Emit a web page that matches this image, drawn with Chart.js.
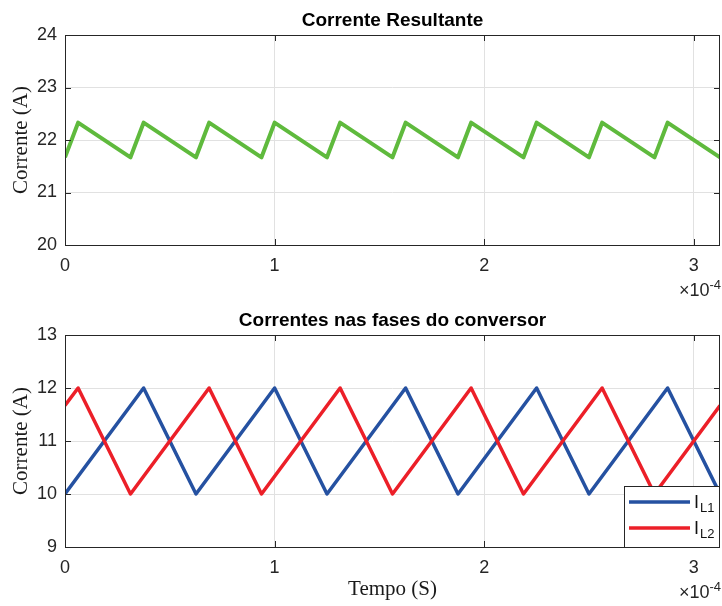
<!DOCTYPE html>
<html>
<head>
<meta charset="utf-8">
<script src="https://cdn.jsdelivr.net/npm/chart.js@4.4.1/dist/chart.umd.min.js"></script>
<style>
    html, body { margin: 0; padding: 0; background: #fff; }
    .grafico { position: absolute; left: 0; width: 722px; }
    #boxSuperior { top: 0; height: 300px; }
    #boxInferior { top: 300px; height: 306px; }
</style>
</head>
<body>
<div class="grafico" id="boxSuperior"><canvas id="graficaSuperior"></canvas></div>
<div class="grafico" id="boxInferior"><canvas id="graficaInferior"></canvas></div>
<script>
//--------Dados (tempo em unidades de 10^-4 s)
const tempoResultante = [0, 0.0625, 0.3125, 0.375, 0.625, 0.6875, 0.9375, 1.0, 1.25, 1.3125, 1.5625,
    1.625, 1.875, 1.9375, 2.1875, 2.25, 2.5, 2.5625, 2.8125, 2.875, 3.125]
const correnteResultante = [21.67, 22.33, 21.67, 22.33, 21.67, 22.33, 21.67, 22.33, 21.67, 22.33, 21.67,
    22.33, 21.67, 22.33, 21.67, 22.33, 21.67, 22.33, 21.67, 22.33, 21.67]

const tempoIL1 = [0, 0.375, 0.625, 1.0, 1.25, 1.625, 1.875, 2.25, 2.5, 2.875, 3.125]
const correnteIL1 = [10, 12, 10, 12, 10, 12, 10, 12, 10, 12, 10]

const tempoIL2 = [0, 0.0625, 0.3125, 0.6875, 0.9375, 1.3125, 1.5625, 1.9375, 2.1875, 2.5625, 2.8125, 3.125]
const correnteIL2 = [11.67, 12, 10, 12, 10, 12, 10, 12, 10, 12, 10, 11.67]

const ticksTempo = [0, 1, 2, 3]
const ticksSuperior = [20, 21, 22, 23, 24]
const ticksInferior = [9, 10, 11, 12, 13]
const tempoMax = 3.125

//--------Estilos
const corEixo = '#262626'
const corGrade = '#e1e1e1'
const fonteSans = '"Liberation Sans", Arial, Helvetica, sans-serif'
const fonteSerif = '"Liberation Serif", "Times New Roman", serif'

function pontos(xs, ys) {
    return xs.map((x, i) => ({ x: x, y: ys[i] }))
}

//Caixa estilo MATLAB com ticks para dentro
const caixaMatlab = {
    id: 'caixaMatlab',
    afterDatasetsDraw(chart) {
        const { ctx, chartArea: a, scales } = chart
        ctx.save()
        ctx.strokeStyle = corEixo
        ctx.lineWidth = 1
        ctx.beginPath()
        scales.x.ticks.forEach(t => {
            const px = Math.round(scales.x.getPixelForValue(t.value)) + 0.5
            ctx.moveTo(px, a.bottom); ctx.lineTo(px, a.bottom - 6)
            ctx.moveTo(px, a.top); ctx.lineTo(px, a.top + 6)
        })
        scales.y.ticks.forEach(t => {
            const py = Math.round(scales.y.getPixelForValue(t.value)) + 0.5
            ctx.moveTo(a.left, py); ctx.lineTo(a.left + 6, py)
            ctx.moveTo(a.right, py); ctx.lineTo(a.right - 6, py)
        })
        ctx.stroke()
        ctx.strokeRect(Math.round(a.left) + 0.5, Math.round(a.top) + 0.5, Math.round(a.width) - 1, Math.round(a.height))
        ctx.restore()
    },
    afterDraw(chart) {
        //Expoente do eixo x
        const { ctx, chartArea: a } = chart
        const y = a.bottom + 51
        ctx.save()
        ctx.fillStyle = corEixo
        ctx.textBaseline = 'alphabetic'
        ctx.textAlign = 'right'
        ctx.font = '13px ' + fonteSans
        const sup = '-4'
        ctx.fillText(sup, a.right + 1, y - 7)
        const wSup = ctx.measureText(sup).width
        ctx.font = '18px ' + fonteSans
        ctx.fillText('\u00d710', a.right + 1 - wSup, y)
        ctx.restore()
    }
}

//Legenda com subscritos
const legendaMatlab = {
    id: 'legendaMatlab',
    afterDraw(chart) {
        const { ctx, chartArea: a } = chart
        const x0 = 624, y0 = a.bottom - 61
        ctx.save()
        ctx.fillStyle = '#ffffff'
        ctx.fillRect(x0, y0, a.right - x0, a.bottom - y0)
        ctx.strokeStyle = corEixo
        ctx.lineWidth = 1
        ctx.strokeRect(x0 + 0.5, y0 + 0.5, a.right - x0 - 1, a.bottom - y0)
        const rotulos = ['L1', 'L2']
        chart.data.datasets.forEach((ds, i) => {
            const yl = y0 + 16 + i * 26
            ctx.strokeStyle = ds.borderColor
            ctx.lineWidth = 3.5
            ctx.beginPath()
            ctx.moveTo(629, yl)
            ctx.lineTo(690, yl)
            ctx.stroke()
            ctx.fillStyle = '#111'
            ctx.textAlign = 'left'
            ctx.textBaseline = 'alphabetic'
            ctx.font = '18px ' + fonteSans
            ctx.fillText('I', 694, yl + 6)
            ctx.font = '13px ' + fonteSans
            ctx.fillText(rotulos[i], 700, yl + 10)
        })
        ctx.restore()
    }
}

function opcoesEixoX(alturaEixo, comTitulo) {
    return {
        type: 'linear',
        min: 0,
        max: tempoMax,
        afterBuildTicks: scale => { scale.ticks = ticksTempo.map(v => ({ value: v })) },
        afterFit: scale => { scale.height = alturaEixo },
        grid: { color: corGrade, drawTicks: false },
        border: { display: false },
        ticks: {
            color: corEixo,
            font: { family: fonteSans, size: 18 },
            padding: 10,
            maxRotation: 0,
            callback: v => String(v)
        },
        title: {
            display: comTitulo,
            text: 'Tempo (S)',
            color: '#1a1a1a',
            font: { family: fonteSerif, size: 21 },
            padding: { top: 0, bottom: 3.5 }
        }
    }
}

function opcoesEixoY(minimo, maximo, listaTicks) {
    return {
        type: 'linear',
        min: minimo,
        max: maximo,
        afterBuildTicks: scale => { scale.ticks = listaTicks.map(v => ({ value: v })) },
        afterFit: scale => { scale.width = 65 },
        grid: { color: corGrade, drawTicks: false },
        border: { display: false },
        ticks: {
            color: corEixo,
            font: { family: fonteSans, size: 18 },
            padding: 8
        },
        title: {
            display: true,
            text: 'Corrente (A)',
            color: '#1a1a1a',
            font: { family: fonteSerif, size: 21 },
            padding: { top: 8.5, bottom: 0 }
        }
    }
}

function opcoesTitulo(texto) {
    return {
        display: true,
        fullSize: false,
        text: texto,
        color: '#000',
        font: { family: fonteSans, size: 19, weight: 'bold' },
        padding: { top: 9.4, bottom: 2.8 }
    }
}

//----Grafico superior
new Chart(document.getElementById('graficaSuperior'), {
    type: 'line',
    data: {
        datasets: [{
            label: 'Corrente Resultante',
            data: pontos(tempoResultante, correnteResultante),
            borderColor: '#5fba3d',
            borderWidth: 4,
            borderJoinStyle: 'round',
            pointRadius: 0,
            tension: 0
        }]
    },
    options: {
        responsive: true,
        maintainAspectRatio: false,
        devicePixelRatio: 1,
        animation: false,
        layout: { padding: { left: 0, right: 2, top: 0, bottom: 0 } },
        scales: {
            x: opcoesEixoX(55, false),
            y: opcoesEixoY(20, 24, ticksSuperior)
        },
        plugins: {
            legend: { display: false },
            tooltip: { enabled: false },
            title: opcoesTitulo('Corrente Resultante')
        }
    },
    plugins: [caixaMatlab]
})

//----Grafico inferior
new Chart(document.getElementById('graficaInferior'), {
    type: 'line',
    data: {
        datasets: [{
            label: 'IL1',
            data: pontos(tempoIL1, correnteIL1),
            borderColor: '#2551a1',
            borderWidth: 3.5,
            borderJoinStyle: 'round',
            pointRadius: 0,
            tension: 0,
            order: 1
        }, {
            label: 'IL2',
            data: pontos(tempoIL2, correnteIL2),
            borderColor: '#ec1f28',
            borderWidth: 3.5,
            borderJoinStyle: 'round',
            pointRadius: 0,
            tension: 0,
            order: 0
        }]
    },
    options: {
        responsive: true,
        maintainAspectRatio: false,
        devicePixelRatio: 1,
        animation: false,
        layout: { padding: { left: 0, right: 2, top: 0, bottom: 0 } },
        scales: {
            x: opcoesEixoX(59, true),
            y: opcoesEixoY(9, 13, ticksInferior)
        },
        plugins: {
            legend: { display: false },
            tooltip: { enabled: false },
            title: opcoesTitulo('Correntes nas fases do conversor')
        }
    },
    plugins: [caixaMatlab, legendaMatlab]
})
</script>
</body>
</html>
